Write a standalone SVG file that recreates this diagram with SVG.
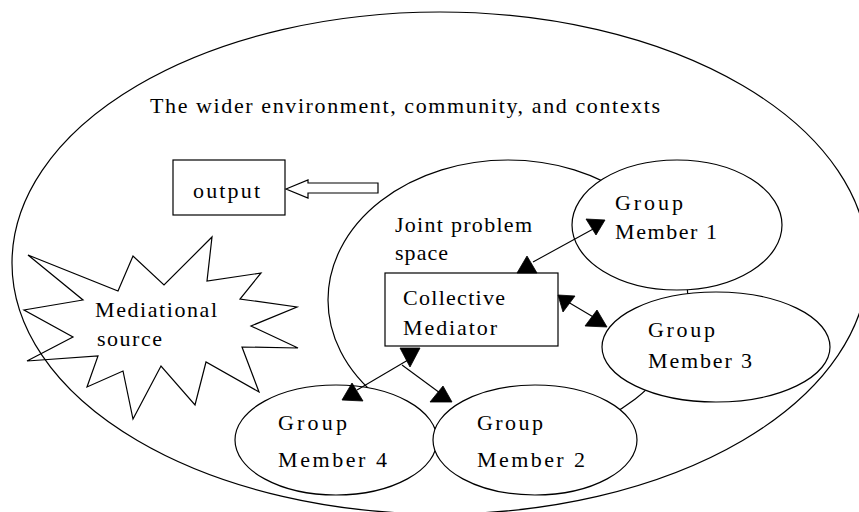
<svg xmlns="http://www.w3.org/2000/svg" width="859" height="512" viewBox="0 0 859 512">
  <style>
    .shape { fill: #fff; stroke: #000; stroke-width: 1.2; }
    .open { fill: none; stroke: #000; stroke-width: 1.2; }
    .line { fill: none; stroke: #000; stroke-width: 1.1; }
    .head { fill: #000; stroke: #000; stroke-width: 0.8; }
    text { font-family: "Liberation Serif", "Times New Roman", serif; font-size: 22px; fill: #000; }
  </style>
  <rect width="859" height="512" fill="#fff"/>

  <!-- wider environment -->
  <g id="environment">
    <ellipse class="shape" cx="440" cy="263" rx="428" ry="251"/>
    <text x="150" y="113" textLength="510" lengthAdjust="spacing">The wider environment, community, and contexts</text>
  </g>

  <!-- mediational source (burst) -->
  <g id="mediational-source">
    <polygon class="open" points="28,255 118,291 133,256 164,285 212,237 207,281 261,273 240,299 297,307 251,326 298,348 242,347 259,392 206,362 195,405 161,366 133,419 123,371 87,387 98,356 27,361 73,337 24,310 83,300"/>
    <text x="95" y="317" textLength="122" lengthAdjust="spacing">Mediational</text>
    <text x="97" y="346" textLength="65" lengthAdjust="spacing">source</text>
  </g>

  <!-- output box -->
  <g id="output">
    <rect class="shape" x="173" y="160" width="112" height="55"/>
    <text x="193" y="198" textLength="67" lengthAdjust="spacing">output</text>
  </g>

  <!-- joint problem space -->
  <g id="joint-problem-space">
    <ellipse class="shape" cx="508" cy="300" rx="180" ry="140"/>
    <text x="395" y="232" textLength="137" lengthAdjust="spacing">Joint problem</text>
    <text x="395" y="260" textLength="53" lengthAdjust="spacing">space</text>
  </g>

  <!-- block arrow toward output -->
  <g id="output-arrow">
    <polygon class="shape" points="286,189 308,180 308,183 378,183 378,193 308,193 308,198"/>
  </g>

  <g id="member-1">
    <ellipse class="shape" cx="677" cy="225" rx="105" ry="65"/>
    <text x="615" y="210" textLength="68" lengthAdjust="spacing">Group</text>
    <text x="615" y="239" textLength="102" lengthAdjust="spacing">Member 1</text>
  </g>

  <g id="member-3">
    <ellipse class="shape" cx="716" cy="347" rx="114" ry="55"/>
    <text x="648" y="337" textLength="67" lengthAdjust="spacing">Group</text>
    <text x="648" y="368" textLength="104" lengthAdjust="spacing">Member 3</text>
  </g>

  <g id="member-4">
    <ellipse class="shape" cx="336" cy="440" rx="101" ry="55"/>
    <text x="278" y="430" textLength="69" lengthAdjust="spacing">Group</text>
    <text x="278" y="467" textLength="109" lengthAdjust="spacing">Member 4</text>
  </g>

  <g id="member-2">
    <ellipse class="shape" cx="535" cy="440" rx="102" ry="55"/>
    <text x="477" y="430" textLength="66" lengthAdjust="spacing">Group</text>
    <text x="477" y="467" textLength="108" lengthAdjust="spacing">Member 2</text>
  </g>

  <g id="collective-mediator">
    <rect class="shape" x="385" y="273" width="173" height="73"/>
    <text x="403" y="305" textLength="102" lengthAdjust="spacing">Collective</text>
    <text x="403" y="335" textLength="94" lengthAdjust="spacing">Mediator</text>
  </g>

  <!-- connectors -->
  <g id="connectors">
    <!-- mediator <-> member 1 -->
    <line class="line" x1="533" y1="262" x2="595" y2="228"/>
    <polygon class="head" points="586,219 605,220 596,235"/>
    <polygon class="head" points="527,256 517,273 537,273"/>
    <!-- mediator <-> member 3 -->
    <line class="line" x1="568" y1="302" x2="595" y2="318"/>
    <polygon class="head" points="558,295 575,296 563,312"/>
    <polygon class="head" points="597,310 585,326 607,327"/>
    <!-- mediator <-> member 4 -->
    <line class="line" x1="408" y1="360" x2="357" y2="390"/>
    <polygon class="head" points="400,348 420,348 410,367"/>
    <polygon class="head" points="352,383 342,400 363,401"/>
    <!-- mediator -> member 2 -->
    <line class="line" x1="402" y1="365" x2="440" y2="393"/>
    <polygon class="head" points="443,386 430,402 452,402"/>
  </g>
</svg>
